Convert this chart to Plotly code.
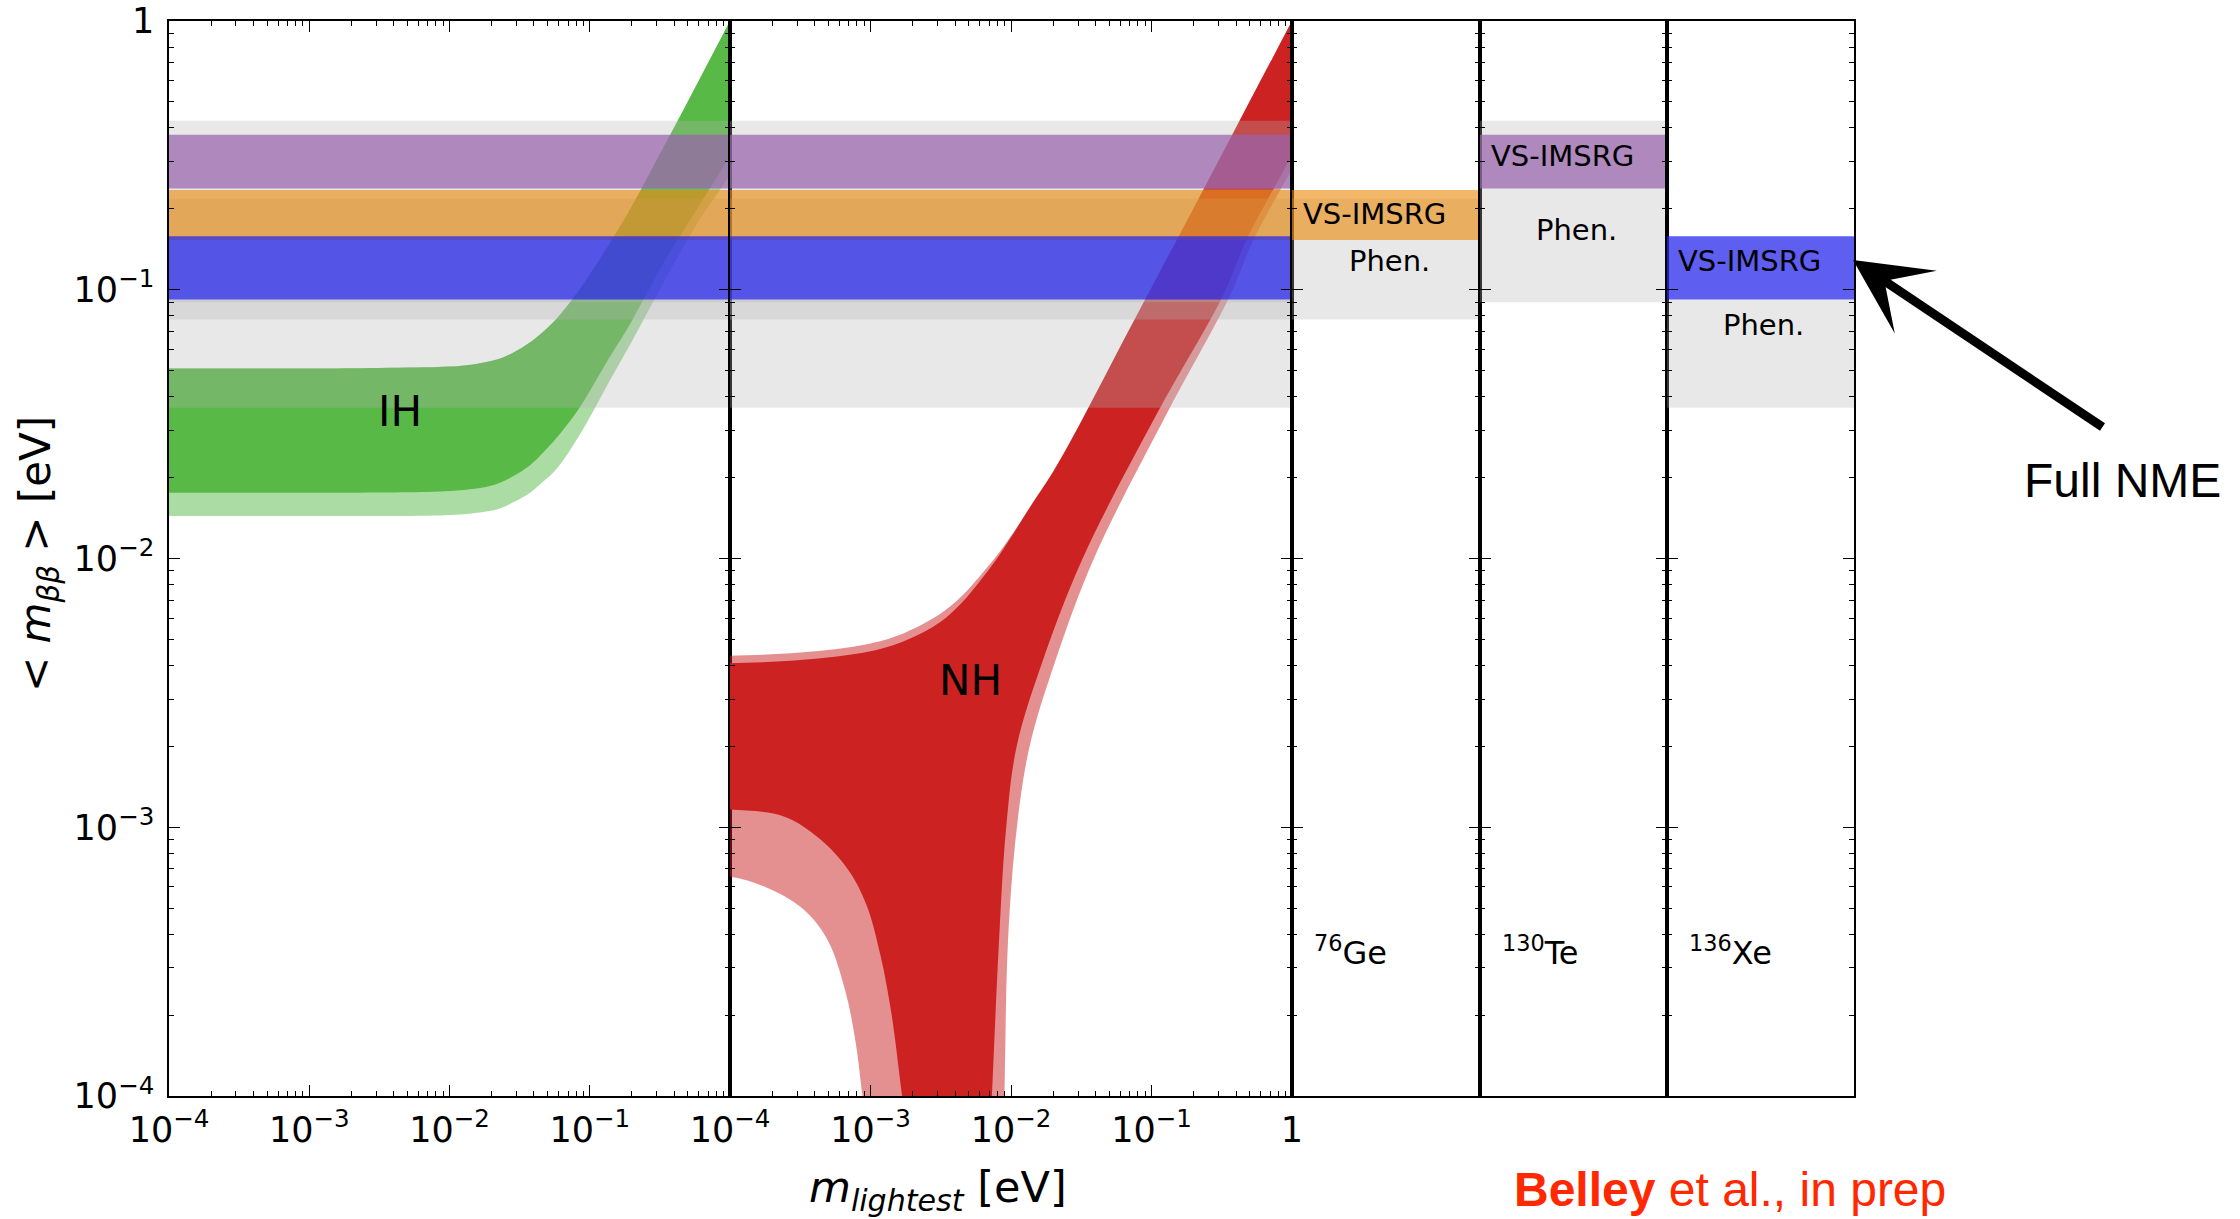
import plotly.graph_objects as go

W, H = 2240, 1219

# ---------------- data (log10 of eV) ----------------
# Inverted hierarchy (IH) band
ih_upper_lx = [-4.3, -4.0, -3.0, -2.5, -2.0, -1.8, -1.663, -1.55, -1.425, -1.33, -1.235, -1.116, -0.949, -0.712, -0.474, -0.236, 0.0, 0.2]
ih_upper_ly = [-1.293, -1.293, -1.293, -1.291, -1.286, -1.275, -1.26, -1.235, -1.195, -1.155, -1.107, -1.03, -0.903, -0.70, -0.47, -0.235, 0.0, 0.2]
ih_lower_lx = [-4.3, -4.0, -3.0, -2.2, -1.9, -1.75, -1.663, -1.55, -1.425, -1.33, -1.235, -1.068, -0.878, -0.712, -0.474, -0.236, 0.0, 0.2]
ih_dark_lower_ly = [-1.755, -1.755, -1.755, -1.753, -1.745, -1.735, -1.723, -1.695, -1.653, -1.605, -1.55, -1.435, -1.268, -1.127, -0.90, -0.70, -0.50, -0.30]
ih_light_lower_ly = [-1.842, -1.842, -1.842, -1.841, -1.835, -1.826, -1.818, -1.792, -1.755, -1.713, -1.666, -1.537, -1.358, -1.204, -0.974, -0.755, -0.57, -0.37]

# Normal hierarchy (NH) band
nh_upper_lx = [-4.3, -4.0, -3.5, -3.0, -2.75, -2.5, -2.35, -2.2, -2.08, -1.95, -1.85, -1.7, -1.5, -1.2, -0.8, -0.4, 0.0, 0.2]
nh_dark_upper_ly = [-2.39, -2.39, -2.378, -2.345, -2.305, -2.235, -2.165, -2.07, -1.985, -1.88, -1.797, -1.677, -1.49, -1.19, -0.795, -0.398, 0.0, 0.2]
nh_light_upper_ly = [-2.362, -2.362, -2.35, -2.316, -2.275, -2.205, -2.14, -2.052, -1.975, -1.878, -1.797, -1.677, -1.49, -1.19, -0.795, -0.398, 0.0, 0.2]
# lower boundary: right edge going down, then the funnel back to the left edge
nh_dark_lower_lx = [0.2, 0.0, -0.32, -0.49, -0.96, -1.49, -1.78, -1.96, -2.034, -2.085, -2.136, -2.19, -2.625, -2.775, -2.85, -2.928, -3.03, -3.158, -3.362, -3.617, -4.0, -4.3]
nh_dark_lower_ly = [-0.30, -0.50, -0.81, -1.02, -1.46, -2.0, -2.39, -2.70, -3.0, -3.42, -4.0, -4.6, -4.6, -4.0, -3.697, -3.479, -3.287, -3.159, -3.043, -2.96, -2.934, -2.934]
nh_light_lower_lx = [0.2, 0.0, -0.27, -0.44, -0.89, -1.41, -1.69, -1.868, -1.958, -2.021, -2.047, -2.074, -2.91, -3.057, -3.106, -3.18, -3.31, -3.49, -3.745, -4.0, -4.3]
nh_light_lower_ly = [-0.35, -0.55, -0.81, -1.02, -1.46, -2.0, -2.39, -2.70, -3.0, -3.42, -4.0, -4.6, -4.6, -4.0, -3.80, -3.607, -3.415, -3.30, -3.223, -3.184, -3.184]

# Effective-mass bands per isotope (eV)
isotopes = ["<sup>76</sup>Ge", "<sup>130</sup>Te", "<sup>136</sup>Xe"]
vs_imsrg_lo = [0.153, 0.238, 0.092]
vs_imsrg_hi = [0.235, 0.377, 0.158]
phen_lo = [0.0775, 0.0898, 0.0364]
phen_hi = [0.218, 0.425, 0.092]

# axis ticks
major_vals = [1e-4, 1e-3, 1e-2, 1e-1, 1.0]
major_text = ["10<sup>\u22124</sup>", "10<sup>\u22123</sup>", "10<sup>\u22122</sup>", "10<sup>\u22121</sup>", "1"]

# ---------------- styles ----------------
GREEN = "rgb(88,185,71)"
GREEN_L = "rgba(88,185,71,0.5)"
RED = "rgb(204,34,34)"
RED_L = "rgba(204,34,34,0.5)"
GRAY = "rgba(180,180,180,0.3)"
BAND_COL = ["rgba(235,135,5,0.6)", "rgba(153,100,172,0.72)", "rgba(40,40,235,0.75)"]

def P(px, py):
    return px / W, 1 - py / H

pan = [169, 730, 1292, 1480, 1667, 1854]
y_dom = [1 - 1096 / H, 1 - 21 / H]

fig = go.Figure()

def poly(lx_up, ly_up, lx_lo, ly_lo, color, ax):
    xs = [10 ** v for v in lx_up] + [10 ** v for v in lx_lo]
    ys = [10 ** v for v in ly_up] + [10 ** v for v in ly_lo]
    fig.add_trace(go.Scatter(x=xs, y=ys, mode="lines", fill="toself", fillcolor=color,
                             line=dict(width=0, shape="spline", smoothing=1),
                             xaxis="x" + ax, yaxis="y" + ax, hoverinfo="skip", showlegend=False))

# IH (panel 1)
poly(ih_upper_lx, ih_upper_ly, ih_lower_lx[::-1], ih_light_lower_ly[::-1], GREEN_L, "")
poly(ih_upper_lx, ih_upper_ly, ih_lower_lx[::-1], ih_dark_lower_ly[::-1], GREEN, "")
# NH (panel 2)
poly(nh_upper_lx, nh_light_upper_ly, nh_light_lower_lx, nh_light_lower_ly, RED_L, "2")
poly(nh_upper_lx, nh_dark_upper_ly, nh_dark_lower_lx, nh_dark_lower_ly, RED, "2")

def band(ax, x0, x1, lo, hi, color):
    fig.add_trace(go.Scatter(x=[x0, x1, x1, x0, x0], y=[lo, lo, hi, hi, lo], mode="lines",
                             fill="toself", fillcolor=color, line=dict(width=0),
                             xaxis="x" + ax, yaxis="y" + ax, hoverinfo="skip", showlegend=False))

own_axes = ["3", "4", "5"]
for i in range(3):
    for ax in ["", "2"]:
        band(ax, 1e-4, 1.0, phen_lo[i], phen_hi[i], GRAY)
    band(own_axes[i], 0, 1, phen_lo[i], phen_hi[i], GRAY)
for i in range(3):
    for ax in ["", "2"]:
        band(ax, 1e-4, 1.0, vs_imsrg_lo[i], vs_imsrg_hi[i], BAND_COL[i])
    band(own_axes[i], 0, 1, vs_imsrg_lo[i], vs_imsrg_hi[i], BAND_COL[i])

# ---------------- axes ----------------
minor_vals = [k * 10.0 ** e for e in range(-4, 0) for k in range(2, 10)]
tick_font = dict(family="DejaVu Sans", size=35, color="black")
minor = dict(tickmode="array", tickvals=minor_vals, ticks="inside", ticklen=5,
             tickwidth=1, tickcolor="black", showgrid=False)

def yax(anchor, labels):
    return dict(type="log", range=[-4, 0], domain=y_dom, anchor=anchor, showline=True,
                linecolor="black", linewidth=1.5, mirror="ticks", ticks="inside", ticklen=11,
                tickwidth=1.3, tickcolor="black", tickmode="array", tickvals=major_vals,
                ticktext=major_text, showticklabels=labels, tickfont=tick_font,
                ticklabelstandoff=6, showgrid=False, zeroline=False, minor=minor,
                automargin=False)

def xlog(i, anchor, text):
    return dict(type="log", range=[-4, 0], domain=[pan[i] / W, pan[i + 1] / W], anchor=anchor,
                showline=True, linecolor="black", linewidth=1.5, mirror="ticks", ticks="inside",
                ticklen=11, tickwidth=1.3, tickcolor="black", tickmode="array",
                tickvals=major_vals, ticktext=text, tickfont=tick_font, showgrid=False,
                zeroline=False, minor=minor, automargin=False, ticklabelstandoff=2)

def xlin(i, anchor):
    return dict(range=[0, 1], domain=[pan[i] / W, pan[i + 1] / W], anchor=anchor, showline=True,
                linecolor="black", linewidth=1.5, mirror=True, ticks="", showticklabels=False,
                showgrid=False, zeroline=False, automargin=False)

layout = dict(
    width=W, height=H, margin=dict(l=0, r=0, t=0, b=0, pad=0, autoexpand=False),
    plot_bgcolor="white", paper_bgcolor="white", showlegend=False,
    xaxis=xlog(0, "y", major_text[:4] + [""]),
    xaxis2=xlog(1, "y2", major_text),
    xaxis3=xlin(2, "y3"), xaxis4=xlin(3, "y4"), xaxis5=xlin(4, "y5"),
    yaxis=yax("x", True), yaxis2=yax("x2", False), yaxis3=yax("x3", False),
    yaxis4=yax("x4", False), yaxis5=yax("x5", False),
)
fig.update_layout(**layout)

# ---------------- annotations ----------------
ann = []
def txt(px, py, text, size, xanchor="center", yanchor="middle", family="DejaVu Sans",
        color="black", angle=0):
    x, y = P(px, py)
    ann.append(dict(x=x, y=y, xref="paper", yref="paper", text=text, showarrow=False,
                    xanchor=xanchor, yanchor=yanchor, textangle=angle,
                    font=dict(family=family, size=size, color=color)))

txt(400, 411, "IH", 42)
txt(970, 681, "NH", 42)
vs_y = [214, 156, 261]
ph_y = [261, 230, 325]
for i in range(3):
    left = pan[2 + i]
    center = (pan[2 + i] + pan[3 + i]) / 2
    txt(left + 9, vs_y[i], "VS-IMSRG", 29, xanchor="left")
    txt(center + 3, ph_y[i], "Phen.", 29)
    txt(left + 20, 951, isotopes[i], 32, xanchor="left")

txt(38, 554, "&lt; <i>m</i><sub><i>\u03b2\u03b2</i></sub> &gt; [eV]", 42, angle=-90)
txt(938, 1190, "<i>m</i><sub><i>lightest</i></sub> [eV]", 43)
txt(2122, 480, "Full NME", 48, family="Liberation Sans")
txt(1730, 1218, "<b>Belley</b> et al., in prep", 48, yanchor="bottom",
    family="Liberation Sans", color="rgb(255,40,0)")

tx, ty = P(1853, 260)
ann.append(dict(x=tx, y=ty, xref="paper", yref="paper", text="", showarrow=True,
                ax=251, ay=168, arrowhead=3, arrowsize=1.4, arrowwidth=9, arrowcolor="black"))
fig.update_layout(annotations=ann)

fig.write_html("out.html")
